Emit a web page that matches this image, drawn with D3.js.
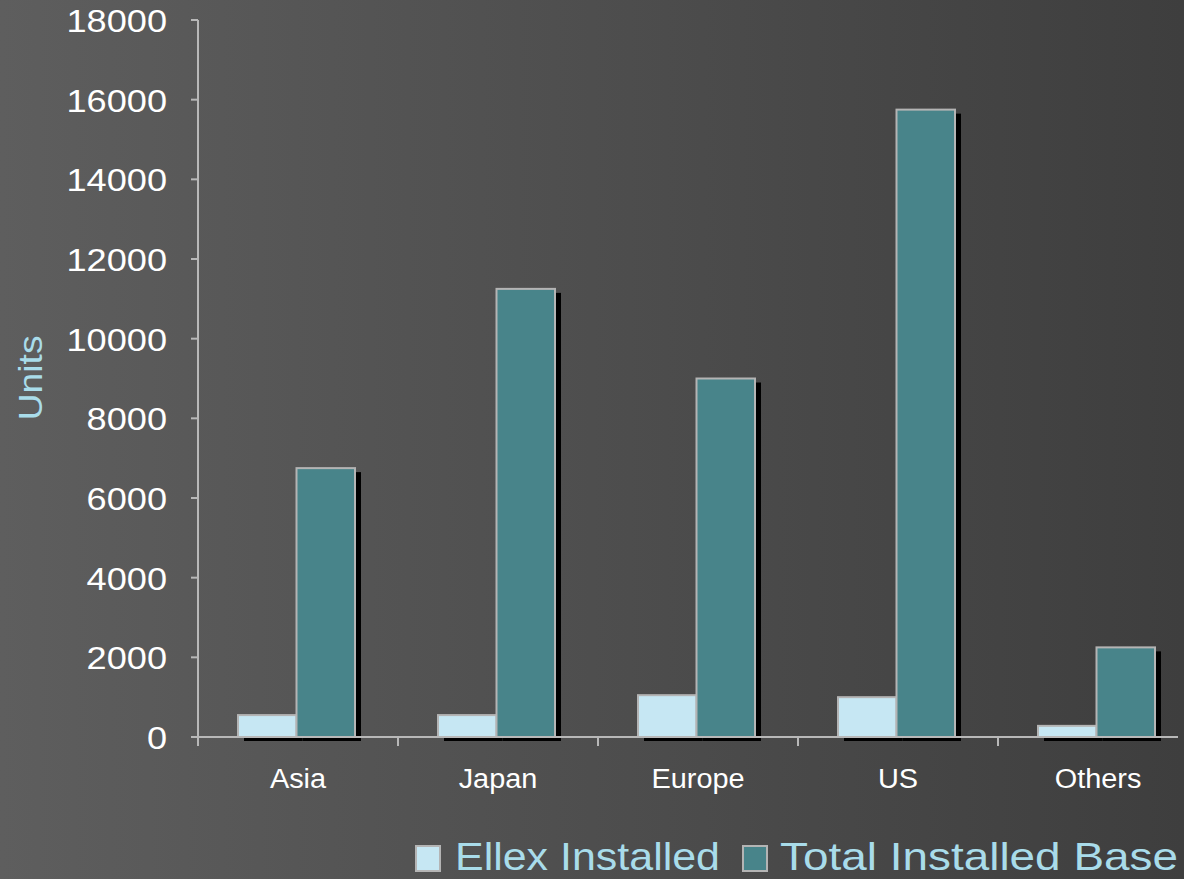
<!DOCTYPE html>
<html>
<head>
<meta charset="utf-8">
<script src="https://cdn.jsdelivr.net/npm/d3@7"></script>
<style>
  html, body { margin: 0; padding: 0; overflow: hidden; }
  svg { display: block; }
  text { font-family: "Liberation Sans", Arial, sans-serif; }
</style>
</head>
<body>
<svg id="chart" width="1184" height="879"></svg>
<script>
// Installed units by region
const categories = ["Asia", "Japan", "Europe", "US", "Others"];
const seriesNames = ["Ellex Installed", "Total Installed Base"];
const ellexInstalled = [550, 550, 1050, 1000, 280];
const totalInstalledBase = [6750, 11250, 9000, 15750, 2250];
const yTicks = [0, 2000, 4000, 6000, 8000, 10000, 12000, 14000, 16000, 18000];

const seriesValues = [ellexInstalled, totalInstalledBase];
const colors = ["#c6e7f3", "#48848a"];

const W = 1184, H = 879;
const svg = d3.select("#chart");

// Dark horizontal background gradient
const defs = svg.append("defs");
const grad = defs.append("linearGradient").attr("id", "bg")
  .attr("x1", "0%").attr("y1", "0%").attr("x2", "100%").attr("y2", "0%");
grad.append("stop").attr("offset", "0%").attr("stop-color", "#5e5e5e");
grad.append("stop").attr("offset", "100%").attr("stop-color", "#3e3e3e");
svg.append("rect").attr("width", W).attr("height", H).attr("fill", "url(#bg)");

const x0 = 198, x1 = 1198, y0 = 737, yTop = 20;
const x = d3.scaleBand().domain(categories).range([x0, x1]).padding(0);
const xs = d3.scaleBand().domain(seriesNames).range([40, 157]).padding(0);
const y = d3.scaleLinear().domain([0, 18000]).range([y0, yTop]);

const axisColor = "#b8b8b8";

// Bars: drop shadow first, then the bars
const groups = svg.append("g").selectAll("g")
  .data(categories).join("g")
  .attr("transform", d => `translate(${x(d)},0)`);

const barData = (c, i) => seriesNames.map((s, k) => ({ s, k, v: seriesValues[k][i] }));

groups.selectAll("rect.shadow")
  .data((c, i) => barData(c, i)).join("rect")
  .attr("class", "shadow")
  .attr("x", d => xs(d.s) + 6)
  .attr("y", d => y(d.v) + 4)
  .attr("width", xs.bandwidth())
  .attr("height", d => y0 - y(d.v))
  .attr("fill", "#000");

groups.selectAll("rect.bar")
  .data((c, i) => barData(c, i)).join("rect")
  .attr("class", "bar")
  .attr("x", d => xs(d.s))
  .attr("y", d => y(d.v))
  .attr("width", xs.bandwidth())
  .attr("height", d => y0 - y(d.v))
  .attr("fill", d => colors[d.k])
  .attr("stroke", "#b4b4b4")
  .attr("stroke-width", 2);

// Y axis
const yAxis = svg.append("g");
yAxis.append("line")
  .attr("x1", x0).attr("x2", x0).attr("y1", yTop).attr("y2", y0 + 9)
  .attr("stroke", axisColor).attr("stroke-width", 2);
yAxis.selectAll("line.tick").data(yTicks).join("line")
  .attr("class", "tick")
  .attr("x1", x0 - 7).attr("x2", x0)
  .attr("y1", d => y(d)).attr("y2", d => y(d))
  .attr("stroke", axisColor).attr("stroke-width", 2);
yAxis.selectAll("text").data(yTicks).join("text")
  .attr("transform", d => `translate(167,${y(d) + 12}) scale(1.13,1)`)
  .attr("text-anchor", "end")
  .attr("font-size", 32)
  .attr("fill", "#ffffff")
  .text(d => d);

// X axis
const xAxis = svg.append("g");
xAxis.append("line")
  .attr("x1", x0).attr("x2", 1178).attr("y1", y0).attr("y2", y0)
  .attr("stroke", axisColor).attr("stroke-width", 2);
xAxis.selectAll("line.tick").data(categories).join("line")
  .attr("class", "tick")
  .attr("x1", d => x(d)).attr("x2", d => x(d))
  .attr("y1", y0).attr("y2", y0 + 9)
  .attr("stroke", axisColor).attr("stroke-width", 2);
xAxis.selectAll("text").data(categories).join("text")
  .attr("transform", d => `translate(${x(d) + x.bandwidth() / 2},788) scale(1.07,1)`)
  .attr("text-anchor", "middle")
  .attr("font-size", 27)
  .attr("fill", "#ffffff")
  .text(d => d);

// Y axis title
svg.append("text")
  .attr("transform", "translate(42,378) rotate(-90) scale(1.1,1)")
  .attr("text-anchor", "middle")
  .attr("font-size", 34)
  .attr("fill", "#a9dcea")
  .text("Units");

// Legend
const legendItems = [
  { name: seriesNames[0], color: colors[0], sx: 416, tx: 455, len: 265 },
  { name: seriesNames[1], color: colors[1], sx: 743, tx: 780, len: 398 }
];
const legend = svg.append("g");
legend.selectAll("rect").data(legendItems).join("rect")
  .attr("x", d => d.sx).attr("y", 846)
  .attr("width", 24).attr("height", 25)
  .attr("fill", d => d.color)
  .attr("stroke", "#b4b4b4").attr("stroke-width", 2);
legend.selectAll("text").data(legendItems).join("text")
  .attr("x", d => d.tx).attr("y", 870)
  .attr("font-size", 39)
  .attr("textLength", d => d.len)
  .attr("lengthAdjust", "spacingAndGlyphs")
  .attr("fill", "#a9dcea")
  .text(d => d.name);
</script>
</body>
</html>
